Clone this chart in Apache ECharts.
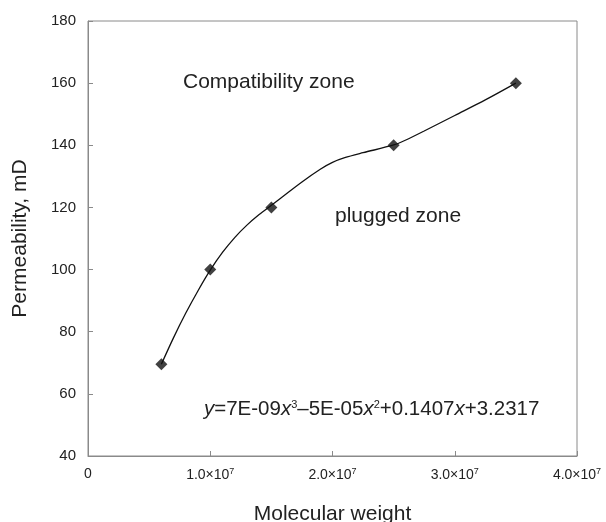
<!DOCTYPE html>
<html>
<head>
<meta charset="utf-8">
<script src="https://cdn.jsdelivr.net/npm/echarts@6/dist/echarts.min.js"></script>
<style>
  html, body { margin: 0; padding: 0; background: #fff; }
  #chart { width: 606px; height: 522px; }
</style>
</head>
<body>
<div id="chart"></div>
<script>
// measured points
const molWeight = [6e6, 1.0e7, 1.5e7, 2.5e7, 3.5e7]
const permeability = [69.5, 100, 120, 140, 160]

// trend curve, values
const curveX = [6e6, 7e6, 8e6, 9e6, 1.0e7, 1.1e7, 1.2e7, 1.3e7, 1.4e7, 1.5e7, 1.75e7, 1.9e7, 2.0e7, 2.1e7, 2.25e7, 2.5e7, 2.6e7, 2.75e7, 3.0e7, 3.25e7, 3.5e7]
const curveY = [69.5, 78.1, 86.0, 93.2, 99.8, 105.5, 110.3, 114.3, 117.7, 120.7, 128.2, 132.3, 134.5, 136.0, 137.6, 140.1, 141.7, 144.6, 149.6, 154.6, 160]

const xTicks = ['0', '1.0×10|7', '2.0×10|7', '3.0×10|7', '4.0×10|7']

const font = 'Liberation Sans, Arial, sans-serif'
const textColor = '#222'
const boxColor = '#8a8a8a'

const myEcharts = echarts.init(document.getElementById('chart'))

const option = {
  animation: false,
  backgroundColor: '#fff',
  textStyle: { fontFamily: font },
  grid: {
    left: 88, top: 21, right: 29, bottom: 66,
    outerBoundsMode: 'none',
    containLabel: false,
    show: true, borderColor: boxColor, borderWidth: 1
  },
  xAxis: {
    type: 'value',
    min: 0, max: 4e7, interval: 1e7,
    name: 'Molecular weight',
    nameLocation: 'middle',
    nameGap: 48,
    nameTextStyle: { fontSize: 21, color: textColor, fontFamily: font },
    axisLine: { show: true, lineStyle: { color: boxColor } },
    axisTick: { show: true, inside: true, length: 5, lineStyle: { color: boxColor } },
    splitLine: { show: false },
    axisLabel: {
      margin: 11,
      color: textColor,
      formatter: function (v) {
        const s = xTicks[Math.round(v / 1e7)]
        const p = s.split('|')
        if (p.length < 2) return '{a|' + p[0] + '}'
        return '{a|' + p[0] + '}{s|' + p[1] + '}'
      },
      rich: {
        a: { fontSize: 14, color: textColor, fontFamily: font },
        s: { fontSize: 9, color: textColor, fontFamily: font, padding: [0, 0, 8, 0] }
      }
    }
  },
  yAxis: {
    type: 'value',
    min: 40, max: 180, interval: 20,
    name: 'Permeability, mD',
    nameLocation: 'middle',
    nameGap: 57,
    nameTextStyle: { fontSize: 21, color: textColor, fontFamily: font },
    axisLine: { show: true, lineStyle: { color: boxColor } },
    axisTick: { show: true, inside: true, length: 5, lineStyle: { color: boxColor } },
    splitLine: { show: false },
    axisLabel: { margin: 12, fontSize: 15, color: textColor, fontFamily: font }
  },
  series: [
    {
      type: 'line',
      data: curveX.map((x, i) => [x, curveY[i]]),
      smooth: 0.3,
      showSymbol: false,
      lineStyle: { color: '#111', width: 1.3 },
      z: 2
    },
    {
      type: 'scatter',
      data: molWeight.map((x, i) => [x, permeability[i]]),
      symbol: 'diamond',
      symbolSize: 12,
      itemStyle: { color: '#111' },
      z: 3
    }
  ],
  graphic: [
    {
      type: 'text', left: 183, top: 72,
      style: { text: 'Compatibility zone', fontSize: 21, fill: textColor, fontFamily: font }
    },
    {
      type: 'text', left: 335, top: 206,
      style: { text: 'plugged zone', fontSize: 21, fill: textColor, fontFamily: font }
    },
    {
      type: 'text', left: 204, top: 399,
      style: {
        text: '{i|y}=7E-09{i|x}{s|3}–5E-05{i|x}{s|2}+0.1407{i|x}+3.2317',
        fontSize: 20.5, fill: textColor, fontFamily: font,
        rich: {
          i: { fontSize: 20.5, fontStyle: 'italic', fill: textColor, fontFamily: font },
          s: { fontSize: 11, fill: textColor, fontFamily: font, padding: [0, 0, 9, 0] }
        }
      }
    }
  ]
}

myEcharts.setOption(option)
</script>
</body>
</html>
